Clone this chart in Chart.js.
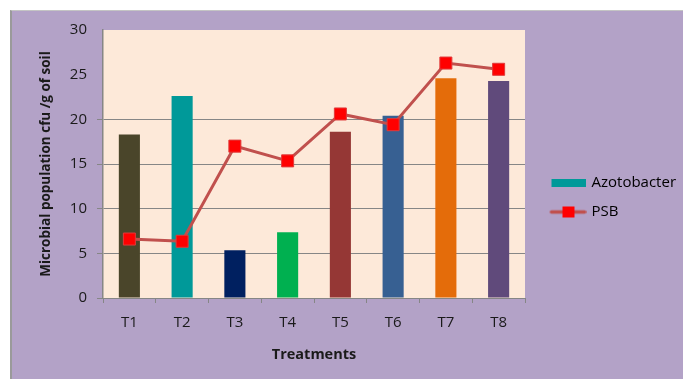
<!DOCTYPE html>
<html>
<head>
<meta charset="utf-8">
<script src="https://cdn.jsdelivr.net/npm/chart.js@4"></script>
<style>
  body { margin: 0; background: #fff; }
  #frame {
    position: absolute; left: 10px; top: 10px;
    width: 671px; height: 368px;
    background: #b3a2c7;
    border-left: 2px solid #9a9a9a;
    border-top: 1px solid #c4c4c4;
  }
  canvas { display: block; }
</style>
</head>
<body>
<div id="frame"><canvas id="chart" width="671" height="368"></canvas></div>
<script>
const treatments = ["T1", "T2", "T3", "T4", "T5", "T6", "T7", "T8"];
const azotobacter = [18.3, 22.6, 5.35, 7.35, 18.6, 20.4, 24.6, 24.3];
const psb = [6.6, 6.35, 17.0, 15.35, 20.6, 19.4, 26.3, 25.6];
const barColors = ["#4a452a", "#009999", "#002060", "#00b050", "#953735", "#376092", "#e46c0a", "#604a7b"];
const yTicks = [0, 5, 10, 15, 20, 25, 30];
const griddedTicks = [0, 5, 10, 15, 20];

const font = "'Open Sans', 'DejaVu Sans', sans-serif";
const gridGrey = "#868686";

// legend symbols
function makeBoxSymbol() {
  const c = document.createElement("canvas");
  c.width = 36; c.height = 8;
  const g = c.getContext("2d");
  g.fillStyle = "#009999";
  g.fillRect(2, 0, 34, 8);
  return c;
}
function makeLineSymbol() {
  const c = document.createElement("canvas");
  c.width = 38; c.height = 13;
  const g = c.getContext("2d");
  g.strokeStyle = "#c0504d";
  g.lineWidth = 3.5;
  g.lineCap = "round";
  g.beginPath(); g.moveTo(3, 6.5); g.lineTo(36, 6.5); g.stroke();
  g.fillStyle = "#ff0000";
  g.fillRect(14, 1, 12, 11);
  return c;
}
const boxSymbol = makeBoxSymbol();
const lineSymbol = makeLineSymbol();

const plotBackground = {
  id: "plotBackground",
  beforeDraw(chart) {
    const { ctx, chartArea: a } = chart;
    ctx.save();
    ctx.fillStyle = "#fde9d9";
    ctx.fillRect(a.left, a.top, a.right - a.left, a.bottom - a.top);
    ctx.restore();
  }
};

new Chart(document.getElementById("chart"), {
  data: {
    labels: treatments,
    datasets: [
      {
        type: "line",
        label: "PSB",
        data: psb,
        order: 0,
        borderColor: "#c0504d",
        borderWidth: 3,
        tension: 0,
        pointStyle: "rect",
        pointRadius: 8.5,
        pointBackgroundColor: "#ff0000",
        pointBorderColor: "#e03a3a",
        pointBorderWidth: 1
      },
      {
        type: "bar",
        label: "Azotobacter",
        data: azotobacter,
        order: 1,
        backgroundColor: barColors,
        barPercentage: 0.4,
        categoryPercentage: 1
      }
    ]
  },
  options: {
    responsive: false,
    animation: false,
    layout: { padding: { top: 18, bottom: 13, left: 0, right: 0 } },
    plugins: {
      tooltip: { enabled: false },
      legend: {
        position: "right",
        maxWidth: 146,
        labels: {
          usePointStyle: true,
          pointStyleWidth: 33,
          padding: 14,
          color: "#1a1a1a",
          font: { family: font, size: 15 },
          generateLabels: () => [
            { text: "Azotobacter", pointStyle: boxSymbol, fillStyle: "#009999", strokeStyle: "transparent", lineWidth: 0, hidden: false, datasetIndex: 1 },
            { text: "PSB", pointStyle: lineSymbol, fillStyle: "#ff0000", strokeStyle: "transparent", lineWidth: 0, hidden: false, datasetIndex: 0 }
          ]
        }
      }
    },
    scales: {
      x: {
        afterFit: s => { s.height = 68; },
        grid: { offset: true, drawOnChartArea: false, tickLength: 5, color: gridGrey },
        border: { color: gridGrey, width: 1 },
        ticks: { padding: 11, color: "#1a1a1a", font: { family: font, size: 15 } },
        title: {
          display: true,
          text: "Treatments",
          color: "#1a1a1a",
          font: { family: font, size: 14.5, weight: "bold" },
          padding: { top: 0, bottom: 2 }
        }
      },
      y: {
        min: 0,
        max: 30,
        afterFit: s => { s.width = 91; },
        afterBuildTicks: s => { s.ticks = yTicks.map(v => ({ value: v })); },
        grid: {
          tickLength: 6,
          color: c => griddedTicks.includes(c.tick.value) ? gridGrey : "transparent"
        },
        border: { color: gridGrey, width: 1.5 },
        ticks: { padding: 10, color: "#1a1a1a", font: { family: font, size: 15 } },
        title: {
          display: true,
          text: "Microbial population cfu /g of soil",
          color: "#1a1a1a",
          font: { family: font, size: 13.5, weight: "bold" },
          padding: { top: 26, bottom: 0 }
        }
      },
      spacer: {
        type: "linear",
        position: "right",
        afterFit: s => { s.width = 12; },
        grid: { display: false },
        border: { display: false },
        ticks: { display: false }
      }
    }
  },
  plugins: [plotBackground]
});
</script>
</body>
</html>
